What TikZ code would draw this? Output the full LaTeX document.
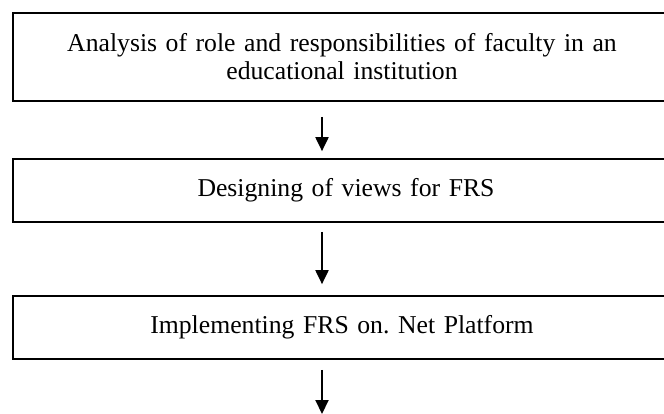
\documentclass[tikz,border=0pt]{standalone}
\usepackage{fontspec}
\setmainfont[WordSpace=0.85]{Liberation Serif}
\frenchspacing
\usetikzlibrary{arrows.meta,calc}
\tikzset{
  stagebox/.style={draw=black, line width=0.85pt, minimum width=329pt, inner sep=0pt,
    font=\fontsize{12.85}{14}\selectfont, align=center, text width=320pt},
  flowarrow/.style={line width=1pt, -{Triangle[length=7pt,width=6.5pt]}}
}
\begin{document}
\begin{tikzpicture}[x=0.5pt,y=-0.5pt]
\useasboundingbox (0,0) rectangle (664,413);
\clip (0,0) rectangle (664,413);
\node[stagebox, minimum height=44pt] (a) at (342,57) {Analysis of role and responsibilities of faculty in an\\educational institution};
\node[stagebox, minimum height=31.5pt] (b) at (342,190.5) {\hspace*{4pt}Designing of views for FRS};
\node[stagebox, minimum height=31.5pt] (c) at (342,327.5) {Implementing FRS on. Net Platform};
\coordinate (ax) at (322,0);
\coordinate (endc) at (322,414);
\draw[flowarrow] ([yshift=-7.5pt]a.south -| ax) -- ([yshift=3.5pt]b.north -| ax);
\draw[flowarrow] ([yshift=-4.5pt]b.south -| ax) -- ([yshift=5.5pt]c.north -| ax);
\draw[flowarrow] ([yshift=-5pt]c.south -| ax) -- (endc);
\end{tikzpicture}
\end{document}
